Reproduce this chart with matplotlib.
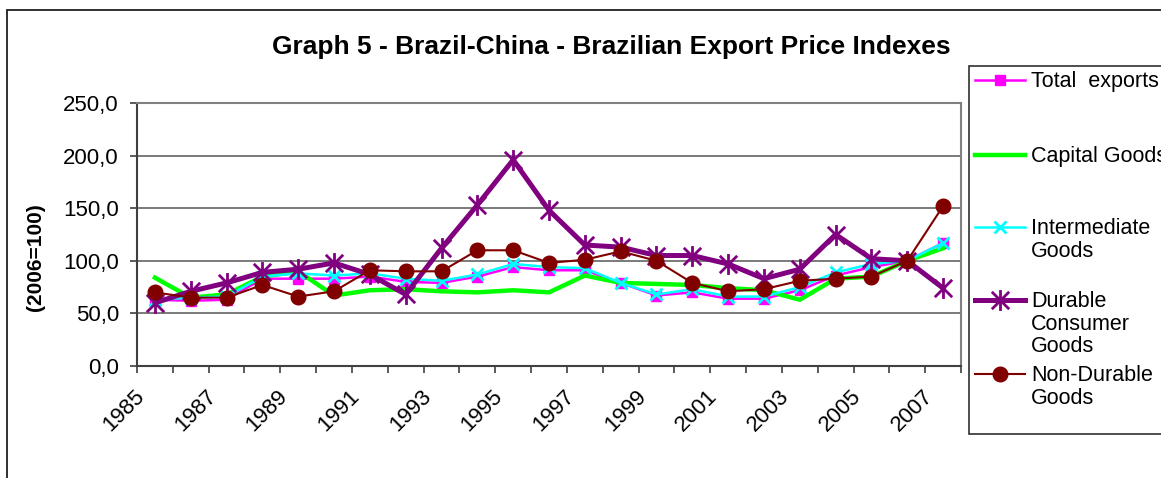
import numpy as np
import matplotlib
matplotlib.use("Agg")
import matplotlib.pyplot as plt
from matplotlib.path import Path
from matplotlib.lines import Line2D
from matplotlib.patches import Rectangle
from matplotlib.ticker import FuncFormatter
import matplotlib.transforms as mtransforms

plt.rcParams['font.family'] = ['Liberation Sans', 'DejaVu Sans']

# Dados (2006=100)
years = list(range(1985, 2008))
total_exports = [63, 62, 63, 83, 83, 83, 85, 80, 79, 85, 94, 91, 91, 79, 67, 70, 64, 64, 72, 86, 94, 100, 117]
capital_goods = [84, 65, 68, 85, 90, 67, 72, 73, 71, 70, 72, 70, 86, 79, 78, 77, 74, 72, 63, 83, 85, 100, 112]
intermediate = [63, 65, 66, 85, 88, 86, 88, 83, 81, 87, 97, 94, 93, 79, 68, 73, 66, 66, 75, 89, 97, 100, 117]
durable = [60, 71, 79, 89, 92, 98, 87, 68, 112, 153, 196, 148, 115, 113, 105, 105, 97, 83, 92, 125, 102, 100, 74]
non_durable = [70, 65, 65, 77, 66, 71, 91, 90, 90, 110, 110, 98, 101, 109, 100, 79, 71, 73, 81, 83, 85, 100, 152]

labels = ['Total  exports', 'Capital Goods', 'Intermediate\nGoods',
          'Durable\nConsumer\nGoods', 'Non-Durable\nGoods']

# marcador estrela estilo Excel (x + barra vertical)
star = Path([(-1, -1), (1, 1), (-1, 1), (1, -1), (0, -1.2), (0, 1.2)],
            [Path.MOVETO, Path.LINETO, Path.MOVETO, Path.LINETO, Path.MOVETO, Path.LINETO])

styles = [
    dict(color='#FF00FF', lw=1.8, marker='s', ms=7.5, mfc='#FF00FF', mec='#FF00FF'),
    dict(color='#00FF00', lw=3.2, marker=None),
    dict(color='#00FFFF', lw=1.8, marker='x', ms=8.5, mew=2.0, mec='#00FFFF'),
    dict(color='#800080', lw=3.6, marker=star, ms=15, mew=2.0, mec='#800080'),
    dict(color='#800000', lw=1.5, marker='o', ms=10.5, mfc='#800000', mec='#800000'),
]
series = [total_exports, capital_goods, intermediate, durable, non_durable]

W, H = 1161, 478
fig = plt.figure(figsize=(W / 100, H / 100), dpi=100)
ax = fig.add_axes([137 / W, 1 - 366 / H, (961 - 137) / W, (366 - 103) / H])

x = np.arange(len(years))
for vals, st in zip(series, styles):
    ax.plot(x, vals, **st, clip_on=False, zorder=3)

ax.set_xlim(-0.5, len(years) - 0.5)
ax.set_ylim(0, 250)
ax.set_yticks(np.arange(0, 251, 50))
ax.yaxis.set_major_formatter(FuncFormatter(lambda v, p: f"{v:.1f}".replace('.', ',')))
for yv in np.arange(50, 251, 50):
    ax.axhline(yv, color='#707070', lw=1.3, zorder=1)

# ticks nos limites das categorias, rotulos a cada dois anos
ax.set_xticks(np.arange(-0.5, len(years), 1.0))
ax.set_xticklabels([])
ax.set_xticks(x[::2], minor=True)
ax.set_xticklabels([str(y) for y in years[::2]], minor=True, rotation=45,
                   ha='right', va='top', rotation_mode='anchor', fontsize=16)
ax.tick_params(axis='x', which='major', direction='out', length=5, width=1.2, color='#404040')
ax.tick_params(axis='x', which='minor', length=0, pad=14)
ax.tick_params(axis='y', direction='out', length=5, width=1.2, color='#404040', pad=8, labelsize=16)
offset = mtransforms.ScaledTranslation(-21 / 100, 0, fig.dpi_scale_trans)
for lab in ax.xaxis.get_minorticklabels():
    lab.set_transform(lab.get_transform() + offset)

for s in ['left', 'bottom']:
    ax.spines[s].set_color('#404040')
    ax.spines[s].set_linewidth(1.5)
for s in ['top', 'right']:
    ax.spines[s].set_color('#808080')
    ax.spines[s].set_linewidth(1.5)

fig.text(611 / W, 1 - 47 / H, 'Graph 5 - Brazil-China - Brazilian Export Price Indexes',
         ha='center', va='center', fontsize=19, fontweight='bold')
fig.text(35 / W, 1 - 257 / H, '(2006=100)', rotation=90, ha='center', va='center',
         fontsize=15, fontweight='bold')

# moldura externa
fig.add_artist(Rectangle((7 / W, -0.1), 1.2, 1.1 - 10 / H, transform=fig.transFigure,
                         fill=False, ec='#202020', lw=1.3))

# legenda manual
fig.add_artist(Rectangle((969 / W, 1 - 434 / H), 1.0, (434 - 66) / H, transform=fig.transFigure,
                         fill=True, fc='white', ec='#303030', lw=1.2))
first_line_y = [80, 155, 227, 300, 374]
for lab, st, yy in zip(labels, styles, first_line_y):
    yf = 1 - yy / H
    fig.add_artist(Line2D([975 / W, 1025 / W], [yf, yf], transform=fig.transFigure,
                          color=st['color'], lw=st['lw']))
    if st.get('marker') is not None:
        mst = {k: v for k, v in st.items() if k not in ('color', 'lw')}
        fig.add_artist(Line2D([1000 / W], [yf], transform=fig.transFigure, lw=0, **mst))
    fig.text(1031 / W, 1 - (yy - 9) / H, lab, ha='left', va='top', fontsize=15.5,
             linespacing=1.1)

fig.savefig('out.png', dpi=100)
